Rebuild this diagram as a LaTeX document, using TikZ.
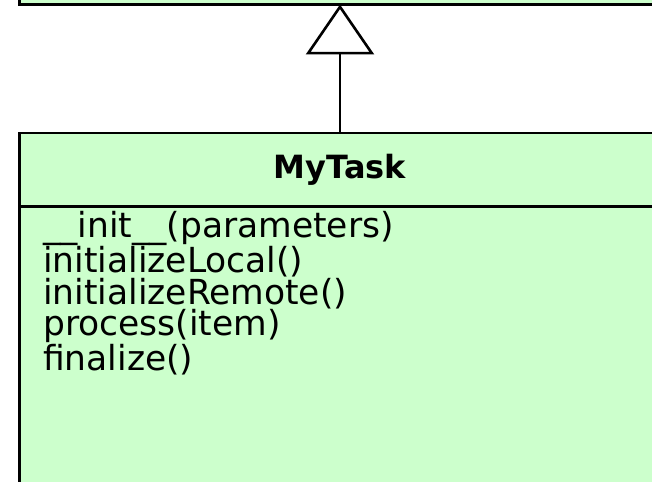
\documentclass[tikz,border=0pt]{standalone}
\usepackage{fontspec}
\setmainfont{DejaVu Sans}
\usetikzlibrary{arrows.meta}
\definecolor{umlgreen}{RGB}{204,255,204}
\begin{document}
\begin{tikzpicture}[x=1pt,y=-1pt]
	\tikzstyle{classbox} = [draw=black, fill=umlgreen, line width=2.8pt, outer sep=0, inner sep=0, minimum width=641pt]
	\tikzstyle{inherits} = [-{Triangle[open, length=50pt, width=68pt]}, line width=2.6pt, line join=miter]
	\tikzstyle{oplist} = [anchor=north west, align=left, inner sep=0, font=\fontsize{34.5}{31.5}\selectfont]
	
	\clip (0,0) rectangle (652,481);
	% parent class, only its lower edge is seen
	\node [classbox, anchor=south west, minimum height=60pt] (parent) at (19.5,4.5) {};
	% the subclass
	\node [classbox, anchor=north west, minimum height=73.5pt, font=\bfseries\fontsize{32}{32}\selectfont] (mytask) at (19.5,133) {MyTask};
	\node [classbox, anchor=north west, minimum height=320pt] (body) at (mytask.south west) {};
	\node [oplist] (ops) at (43,211) {\_\_init\_\_(parameters)\\
		initializeLocal()\\
		initializeRemote()\\
		process(item)\\
		finalize()};
	
	\draw [inherits] (mytask.north) -- (parent.south);
\end{tikzpicture}
\end{document}
